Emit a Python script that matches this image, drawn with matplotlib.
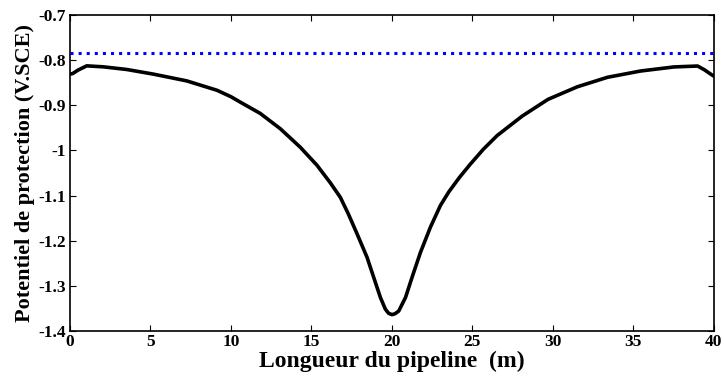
import numpy as np
import matplotlib.pyplot as plt

# potential along the pipeline
x_m = [0.0, 0.17, 0.5, 1.04, 2.07, 3.53, 5.19, 7.26, 9.13, 10.0, 10.58, 11.82,
       13.07, 14.31, 15.35, 16.18, 16.8, 17.3, 17.84, 18.46, 18.87, 19.29, 19.6,
       19.8, 20.01, 20.2, 20.43, 20.85, 21.26, 21.78, 22.4, 23.02, 23.54, 24.2,
       24.89, 25.7, 26.55, 28.1, 29.7, 31.53, 33.4, 35.47, 37.54, 39.0, 39.41,
       39.86, 40.0]
potentiel = [-0.831, -0.8296, -0.822, -0.8126, -0.8148, -0.8207, -0.831, -0.846,
             -0.8667, -0.881, -0.893, -0.918, -0.952, -0.993, -1.033, -1.072,
             -1.104, -1.141, -1.185, -1.237, -1.281, -1.326, -1.352, -1.361, -1.364,
             -1.362, -1.356, -1.326, -1.281, -1.226, -1.17, -1.122, -1.092, -1.06,
             -1.03, -0.997, -0.967, -0.924, -0.887, -0.859, -0.838, -0.824, -0.815,
             -0.813, -0.821, -0.832, -0.835]
seuil = -0.785  # protection criterion

plt.rcParams['font.family'] = 'Liberation Serif'
plt.rcParams['font.weight'] = 'bold'

fig = plt.figure(figsize=(7.24, 3.76), dpi=100)
ax = fig.add_axes([0.0967, 0.12, 0.889, 0.84])

ax.plot([0, 40], [seuil, seuil], color='blue', linestyle=':', linewidth=2.2)
ax.plot(x_m, potentiel, color='black', linewidth=2.6, solid_joinstyle='round')

ax.set_xlim(0, 40)
ax.set_ylim(-1.4, -0.7)
ax.set_xticks(np.arange(0, 41, 5))
ax.set_yticks(np.round(np.arange(-1.4, -0.69, 0.1), 1))
ax.set_yticklabels(['-1.4', '-1.3', '-1.2', '-1.1', '-1', '-0.9', '-0.8', '-0.7'])
ax.tick_params(direction='in', top=True, right=True, length=4, width=0.8,
               labelsize=12.5)
ax.tick_params(axis='x', pad=2)
ax.tick_params(axis='y', pad=3)
for lbl in ax.get_xticklabels() + ax.get_yticklabels():
    lbl.set_fontweight('bold')
for s in ax.spines.values():
    s.set_linewidth(1.2)

ax.set_xlabel('Longueur du pipeline  (m)', fontsize=17, fontweight='bold', labelpad=1)
ax.set_ylabel('Potentiel de protection (V.SCE)', fontsize=16, fontweight='bold', labelpad=2)

fig.savefig('out.png', dpi=100)
